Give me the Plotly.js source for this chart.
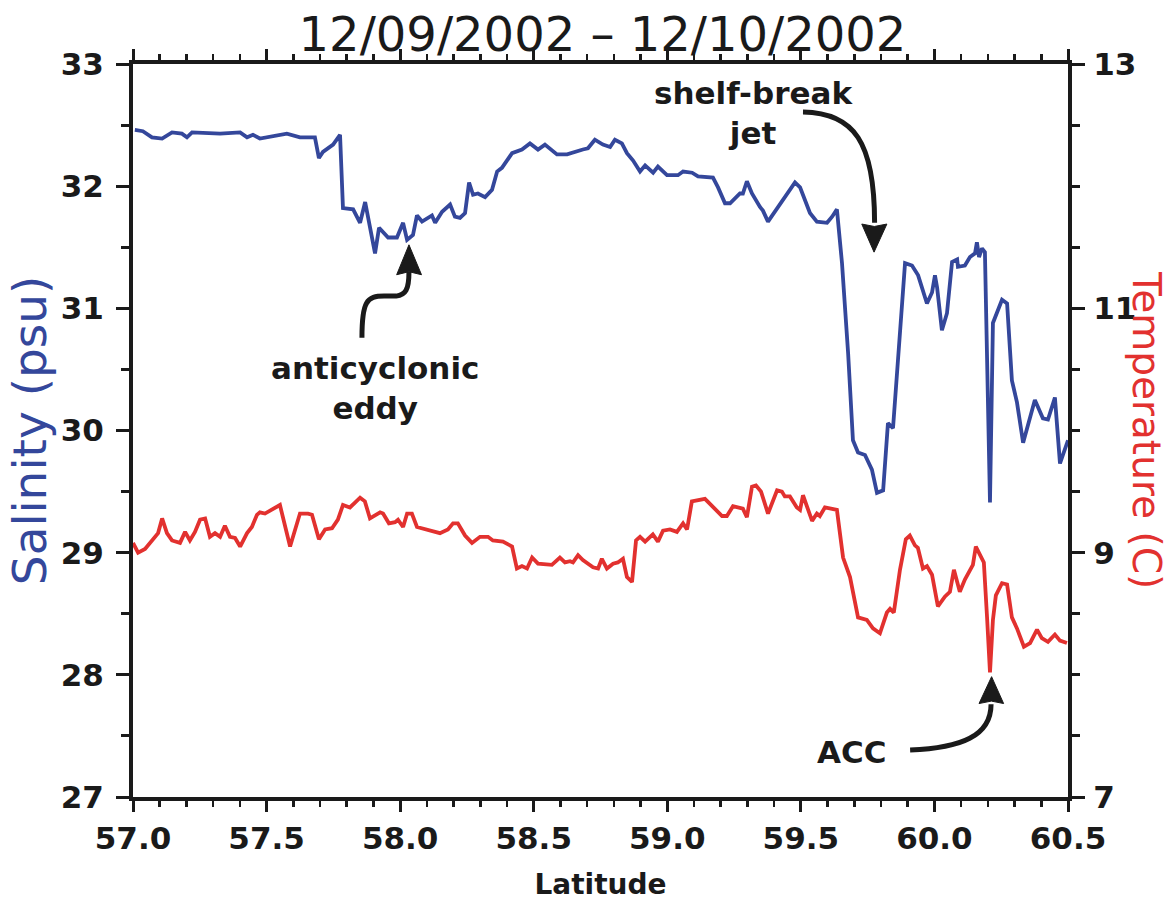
<!DOCTYPE html>
<html>
<head>
<meta charset="utf-8">
<script src="https://cdn.plot.ly/plotly-3.0.1.min.js"></script>
<style>html,body{margin:0;padding:0;background:#fff;}#chart{width:1169px;height:909px;}</style>
</head>
<body>
<div id="chart"></div>
<script>
// ---- Data ----
const salLat = [57.007,57.037,57.071,57.109,57.146,57.183,57.202,57.221,57.326,57.401,57.427,57.449,57.475,57.576,57.625,57.681,57.696,57.711,57.749,57.775,57.786,57.824,57.850,57.869,57.906,57.921,57.955,57.988,58.011,58.026,58.048,58.063,58.082,58.119,58.131,58.157,58.187,58.205,58.224,58.243,58.258,58.273,58.291,58.318,58.344,58.363,58.381,58.419,58.456,58.486,58.516,58.542,58.587,58.625,58.684,58.703,58.729,58.759,58.786,58.804,58.830,58.849,58.872,58.898,58.917,58.947,58.965,58.999,59.040,59.059,59.093,59.115,59.171,59.190,59.216,59.235,59.272,59.283,59.298,59.317,59.347,59.358,59.377,59.433,59.478,59.497,59.534,59.560,59.598,59.617,59.635,59.654,59.677,59.695,59.714,59.740,59.766,59.785,59.808,59.826,59.845,59.890,59.916,59.939,59.972,59.991,60.002,60.010,60.028,60.047,60.066,60.085,60.088,60.114,60.133,60.152,60.159,60.167,60.178,60.189,60.197,60.208,60.219,60.253,60.272,60.290,60.309,60.332,60.376,60.406,60.425,60.451,60.470,60.500];
const salinity = [32.46,32.45,32.40,32.39,32.44,32.43,32.40,32.44,32.43,32.44,32.40,32.42,32.39,32.43,32.40,32.40,32.23,32.28,32.34,32.42,31.82,31.81,31.70,31.87,31.45,31.66,31.58,31.58,31.70,31.56,31.60,31.76,31.71,31.76,31.70,31.79,31.85,31.75,31.74,31.78,32.03,31.93,31.94,31.91,31.97,32.12,32.15,32.27,32.30,32.35,32.30,32.34,32.26,32.26,32.30,32.31,32.38,32.34,32.32,32.38,32.35,32.27,32.21,32.12,32.17,32.11,32.16,32.09,32.09,32.12,32.11,32.08,32.07,31.99,31.86,31.86,31.94,31.94,32.04,31.94,31.83,31.80,31.71,31.89,32.03,31.99,31.78,31.71,31.70,31.75,31.81,31.37,30.63,29.92,29.82,29.80,29.68,29.49,29.51,30.06,30.02,31.37,31.35,31.27,31.04,31.13,31.27,31.17,30.82,30.96,31.38,31.40,31.34,31.35,31.42,31.45,31.54,31.42,31.49,31.46,30.55,29.41,30.88,31.07,31.04,30.41,30.23,29.90,30.25,30.10,30.09,30.27,29.73,29.92];

const tempLat = [57.000,57.019,57.045,57.071,57.094,57.109,57.127,57.146,57.176,57.195,57.213,57.232,57.251,57.270,57.288,57.307,57.326,57.344,57.363,57.382,57.401,57.427,57.445,57.464,57.475,57.494,57.520,57.550,57.588,57.625,57.655,57.670,57.696,57.719,57.745,57.767,57.786,57.812,57.831,57.850,57.868,57.887,57.925,57.936,57.958,57.981,57.992,58.011,58.026,58.044,58.063,58.100,58.149,58.179,58.198,58.216,58.243,58.269,58.299,58.329,58.347,58.385,58.419,58.437,58.456,58.475,58.494,58.516,58.568,58.598,58.617,58.636,58.647,58.666,58.684,58.722,58.741,58.755,58.774,58.797,58.815,58.834,58.849,58.868,58.883,58.898,58.917,58.946,58.965,58.984,59.010,59.036,59.059,59.074,59.092,59.141,59.205,59.223,59.246,59.283,59.298,59.317,59.332,59.351,59.377,59.411,59.429,59.440,59.459,59.485,59.497,59.508,59.542,59.560,59.571,59.590,59.635,59.658,59.684,59.714,59.747,59.770,59.796,59.822,59.834,59.848,59.871,59.893,59.908,59.927,59.938,59.957,59.972,59.991,60.013,60.039,60.058,60.073,60.095,60.114,60.144,60.155,60.170,60.185,60.197,60.208,60.219,60.230,60.253,60.272,60.290,60.309,60.335,60.358,60.384,60.402,60.425,60.451,60.470,60.496];
const temperature = [9.08,9.00,9.03,9.10,9.16,9.28,9.16,9.10,9.08,9.17,9.10,9.17,9.27,9.28,9.13,9.16,9.13,9.22,9.13,9.12,9.05,9.16,9.21,9.31,9.33,9.32,9.35,9.39,9.05,9.32,9.32,9.31,9.11,9.19,9.20,9.27,9.39,9.37,9.41,9.45,9.42,9.28,9.33,9.32,9.24,9.25,9.27,9.21,9.32,9.32,9.21,9.19,9.16,9.19,9.24,9.24,9.14,9.08,9.13,9.13,9.10,9.09,9.05,8.87,8.89,8.87,8.96,8.91,8.90,8.96,8.92,8.93,8.92,8.98,8.94,8.88,8.87,8.95,8.87,8.91,8.92,8.95,8.80,8.76,9.10,9.13,9.09,9.15,9.09,9.18,9.19,9.17,9.24,9.19,9.42,9.44,9.30,9.30,9.38,9.36,9.29,9.54,9.55,9.50,9.32,9.51,9.50,9.46,9.46,9.37,9.35,9.47,9.26,9.32,9.30,9.37,9.35,8.96,8.80,8.47,8.45,8.38,8.34,8.51,8.54,8.51,8.86,9.11,9.14,9.06,9.04,8.87,8.89,8.82,8.56,8.64,8.68,8.86,8.68,8.78,8.90,9.05,8.99,8.92,8.47,8.02,8.45,8.65,8.75,8.74,8.47,8.38,8.23,8.26,8.37,8.30,8.27,8.33,8.28,8.26];

const titleText = "12/09/2002 \u2013 12/10/2002";
const xTitle = "Latitude";
const yTitle = "Salinity (psu)";
const y2Title = "Temperature (C)";
const xTickVals = [57.0,57.5,58.0,58.5,59.0,59.5,60.0,60.5];
const xTickText = ["57.0","57.5","58.0","58.5","59.0","59.5","60.0","60.5"];

// ---- Styling ----
const BLUE = "#34479b";
const RED = "#e2312f";
const INK = "#1a1a1a";
const FONT = "DejaVu Sans, Verdana, sans-serif";
const BOLD = "DejaVu Sans, Verdana, sans-serif";

const traces = [
  {x: salLat, y: salinity, type: "scatter", mode: "lines", name: "Salinity",
   line: {color: BLUE, width: 3.8}, yaxis: "y", hoverinfo: "x+y"},
  {x: tempLat, y: temperature, type: "scatter", mode: "lines", name: "Temperature",
   line: {color: RED, width: 3.8}, yaxis: "y2", hoverinfo: "x+y"}
];

const arrowLine = {color: INK, width: 5};
const shapes = [
  // anticyclonic eddy arrow
  {type: "path", xref: "x", yref: "y", line: arrowLine,
   path: "M 57.857,30.76 C 57.857,31.06 57.875,31.10 57.94,31.10 L 57.985,31.10 C 58.02,31.11 58.033,31.15 58.033,31.30"},
  {type: "path", xref: "x", yref: "y", line: {color: INK, width: 1}, fillcolor: INK,
   path: "M 58.033,31.52 L 57.987,31.275 L 58.033,31.30 L 58.080,31.275 Z"},
  // shelf-break jet arrow
  {type: "path", xref: "x", yref: "y", line: arrowLine,
   path: "M 59.508,32.607 C 59.70,32.60 59.776,32.36 59.776,31.70"},
  {type: "path", xref: "x", yref: "y", line: {color: INK, width: 1}, fillcolor: INK,
   path: "M 59.774,31.46 L 59.728,31.69 L 59.775,31.67 L 59.822,31.69 Z"},
  // ACC arrow
  {type: "path", xref: "x", yref: "y", line: arrowLine,
   path: "M 59.909,27.385 C 60.10,27.40 60.212,27.50 60.212,27.76"},
  {type: "path", xref: "x", yref: "y", line: {color: INK, width: 1}, fillcolor: INK,
   path: "M 60.214,27.985 L 60.167,27.765 L 60.213,27.785 L 60.259,27.765 Z"}
];

const annFont = {family: BOLD, size: 31, color: INK, weight: "bold"};
const annotations = [
  {text: "<b>anticyclonic</b><br><b>eddy</b>", x: 57.906, y: 30.345, xref: "x", yref: "y",
   showarrow: false, font: annFont, align: "center", xanchor: "center", yanchor: "middle"},
  {text: "<b>shelf-break</b><br><b>jet</b>", x: 59.321, y: 32.60, xref: "x", yref: "y",
   showarrow: false, font: annFont, align: "center", xanchor: "center", yanchor: "middle"},
  {text: "<b>ACC</b>", x: 59.691, y: 27.37, xref: "x", yref: "y",
   showarrow: false, font: annFont, xanchor: "center", yanchor: "middle"},
  {text: yTitle, x: -0.110, y: 0.5007, xref: "paper", yref: "paper", textangle: -90,
   showarrow: false, font: {family: FONT, size: 47, color: BLUE}, xanchor: "center", yanchor: "middle"},
  {text: y2Title, x: 1.0834, y: 0.5007, xref: "paper", yref: "paper", textangle: 90,
   showarrow: false, font: {family: FONT, size: 39, color: RED}, xanchor: "center", yanchor: "middle"}
];

const tickFont = {family: BOLD, size: 31, color: INK, weight: "bold"};
const layout = {
  width: 1169, height: 909,
  margin: {l: 133, r: 101, t: 64, b: 112, pad: 0},
  paper_bgcolor: "#ffffff", plot_bgcolor: "#ffffff",
  showlegend: false,
  title: {text: titleText, x: 0.5154, xref: "container", xanchor: "center",
          y: 0.9625, yref: "container", yanchor: "middle",
          font: {family: "DejaVu Sans, sans-serif", size: 48, color: INK}},
  xaxis: {
    range: [57.0, 60.5], tickmode: "array", tickvals: xTickVals, ticktext: xTickText,
    ticks: "outside", ticklen: 11, tickwidth: 3, tickcolor: INK,
    minor: {dtick: 0.1, tick0: 57.0, ticks: "outside", ticklen: 6, tickwidth: 2.5, tickcolor: INK},
    showline: true, linewidth: 4, linecolor: INK, mirror: "ticks",
    showgrid: false, zeroline: false, tickfont: tickFont, ticklabelstandoff: 0,
    title: {text: "<b>" + xTitle + "</b>", font: {family: BOLD, size: 28, color: INK}, standoff: 20}
  },
  yaxis: {
    range: [27, 33], dtick: 1, tick0: 27,
    ticks: "outside", ticklen: 13, tickwidth: 3, tickcolor: INK,
    minor: {dtick: 0.5, tick0: 27, ticks: "outside", ticklen: 8, tickwidth: 3, tickcolor: INK},
    showline: true, linewidth: 4, linecolor: INK,
    showgrid: false, zeroline: false, tickfont: tickFont, ticklabelstandoff: 6
  },
  yaxis2: {
    range: [7, 13], dtick: 2, tick0: 7, overlaying: "y", side: "right",
    ticks: "outside", ticklen: 13, tickwidth: 3, tickcolor: INK,
    minor: {dtick: 0.5, tick0: 7, ticks: "outside", ticklen: 8, tickwidth: 3, tickcolor: INK},
    showline: true, linewidth: 4, linecolor: INK,
    showgrid: false, zeroline: false, tickfont: tickFont, ticklabelstandoff: 2
  },
  shapes: shapes,
  annotations: annotations
};

Plotly.newPlot("chart", traces, layout, {displayModeBar: false, staticPlot: true});
</script>
</body>
</html>
